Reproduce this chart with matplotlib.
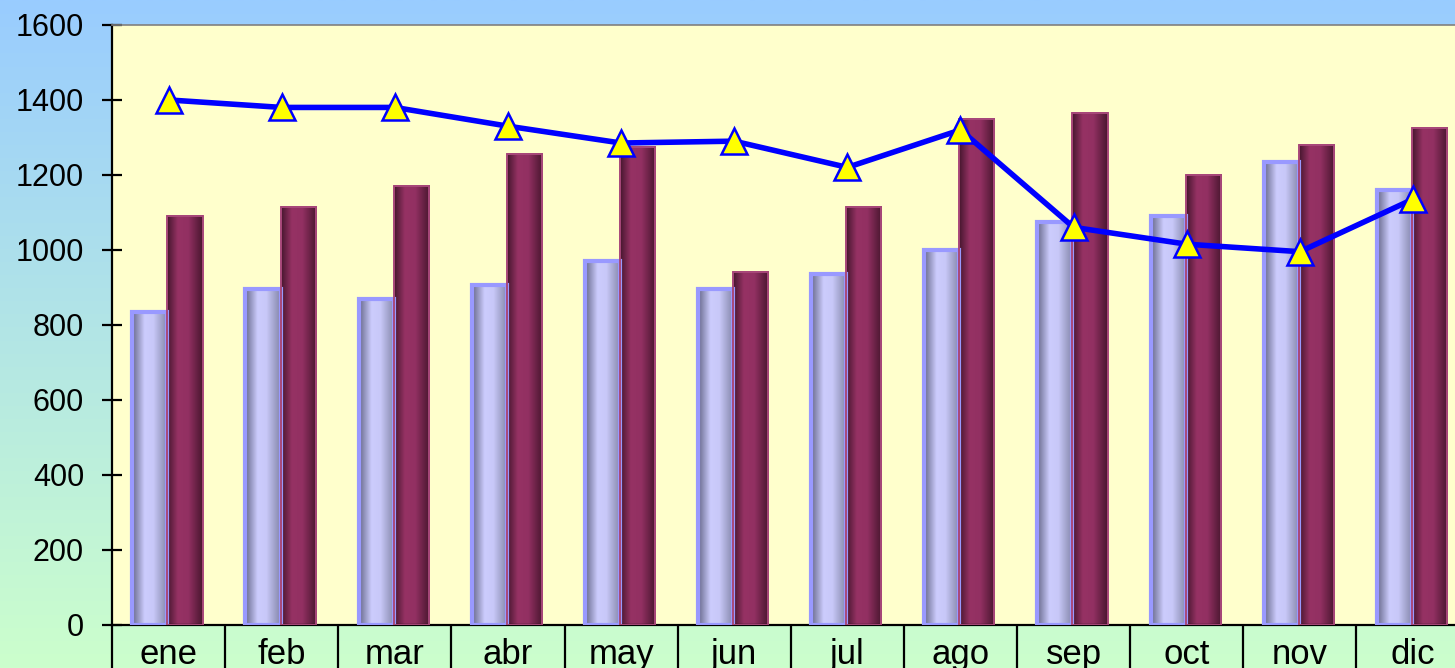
import numpy as np
import matplotlib
matplotlib.use("Agg")
import matplotlib.pyplot as plt
from matplotlib.colors import LinearSegmentedColormap

plt.rcParams['font.family'] = ['Liberation Sans', 'DejaVu Sans']

# ---- data -------------------------------------------------------------
months = ["ene", "feb", "mar", "abr", "may", "jun",
          "jul", "ago", "sep", "oct", "nov", "dic"]
serie_a = [835, 895, 870, 905, 970, 895, 935, 1000, 1075, 1090, 1235, 1160]
serie_b = [1090, 1115, 1170, 1255, 1275, 940, 1115, 1350, 1365, 1200, 1280, 1325]
serie_c = [1400, 1380, 1380, 1330, 1285, 1290, 1220, 1320, 1060, 1015, 995, 1135]
y_ticks = [0, 200, 400, 600, 800, 1000, 1200, 1400, 1600]

# ---- figure -----------------------------------------------------------
W, H, DPI = 1455, 668, 100
fig = plt.figure(figsize=(W / DPI, H / DPI), dpi=DPI)

# vertical background gradient (blue at top, green at bottom)
bg = fig.add_axes([0, 0, 1, 1], zorder=-10)
bg_cmap = LinearSegmentedColormap.from_list("bg", ["#99CCFF", "#CCFFCC"])
bg.imshow(np.linspace(0, 1, 256).reshape(-1, 1), aspect='auto', cmap=bg_cmap,
          extent=[0, 1, 0, 1], origin='upper', interpolation='bilinear')
bg.set_axis_off()

cat_w = 113.13
ax = fig.add_axes([112 / W, (H - 624.5) / H, 12 * cat_w / W, 599.5 / H])
ax.set_facecolor("#FFFFCC")

# cylinder-like shading for the bars
cmap_a = LinearSegmentedColormap.from_list(
    "cyl_a", [(0.0, "#66688a"), (0.35, "#ccccfd"), (0.6, "#c8c8f8"), (1.0, "#8385a8")])
cmap_b = LinearSegmentedColormap.from_list(
    "cyl_b", [(0.0, "#45162d"), (0.3, "#963264"), (0.6, "#923062"), (1.0, "#48162e")])
ramp = np.linspace(0, 1, 128).reshape(1, -1)


def shade(patches, cmap):
    for p in patches:
        x0, w, h = p.get_x(), p.get_width(), p.get_height()
        ax.imshow(ramp, cmap=cmap, aspect='auto', interpolation='bilinear',
                  extent=[x0, x0 + w, 0, h], zorder=2.5)


x = np.arange(len(months))
bw = 0.31
bars_a = ax.bar(x - 0.165, serie_a, width=bw, facecolor='none',
                edgecolor='#9999FF', linewidth=3.0, zorder=3)
bars_b = ax.bar(x + 0.145, serie_b, width=bw, facecolor='none',
                edgecolor='#A8487A', linewidth=1.4, zorder=3)
shade(bars_a, cmap_a)
shade(bars_b, cmap_b)

ax.plot(x, serie_c, color='#0000FF', lw=4.0, marker='^', ms=18.5,
        mfc='#FFFF00', mec='#0000FF', mew=1.8, zorder=5, clip_on=False)

# ---- axes ---------------------------------------------------------------
ax.set_xlim(-0.5, len(months) - 0.5)
ax.set_ylim(0, 1600)
ax.set_yticks(y_ticks)
ax.set_yticklabels([str(v) for v in y_ticks])
ax.tick_params(axis='y', direction='inout', length=13.7, width=1.6,
               labelsize=22, pad=13.3, colors='black')

ax.set_xticks(np.arange(-0.5, len(months), 1.0))
ax.set_xticklabels([])
ax.set_xticks(x, minor=True)
ax.set_xticklabels(months, minor=True)
ax.tick_params(axis='x', which='major', direction='out', length=33,
               width=1.6, color='black')
ax.tick_params(axis='x', which='minor', length=0, labelsize=25, pad=10)

ax.spines['left'].set_linewidth(1.6)
ax.spines['bottom'].set_linewidth(1.6)
ax.spines['top'].set_color('#808080')
ax.spines['top'].set_linewidth(1.2)
ax.spines['right'].set_visible(False)

fig.savefig("out.png", dpi=DPI)
